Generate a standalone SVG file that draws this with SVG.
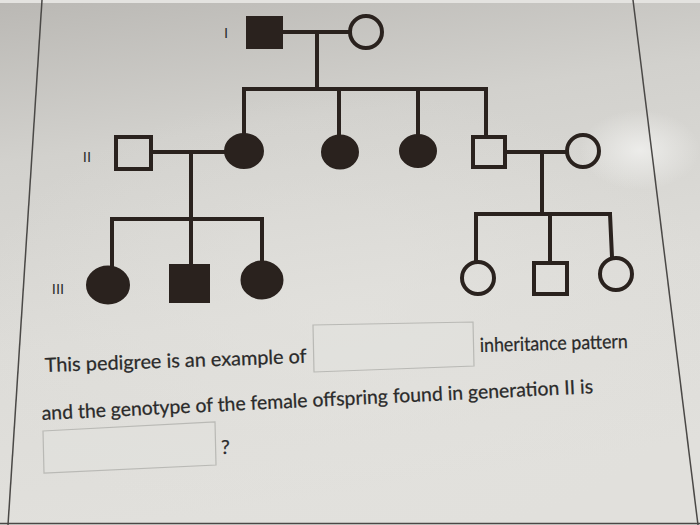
<svg xmlns="http://www.w3.org/2000/svg" width="700" height="525" viewBox="0 0 700 525">
  <defs>
    <linearGradient id="bg" x1="0" y1="0" x2="0.2" y2="1">
      <stop offset="0" stop-color="#bab8b4"/>
      <stop offset="0.3" stop-color="#d2d1cd"/>
      <stop offset="0.65" stop-color="#dddcd8"/>
      <stop offset="1" stop-color="#e1e0dc"/>
    </linearGradient>
    <radialGradient id="soft" cx="0.5" cy="0.5" r="0.5">
      <stop offset="0" stop-color="#e4e3df" stop-opacity="0.6"/>
      <stop offset="1" stop-color="#e4e3df" stop-opacity="0"/>
    </radialGradient>
    <radialGradient id="glare" cx="0.5" cy="0.5" r="0.5">
      <stop offset="0" stop-color="#f2f2f0" stop-opacity="0.8"/>
      <stop offset="1" stop-color="#f2f2f0" stop-opacity="0"/>
    </radialGradient>
    <style>
      .ln { stroke: #2a221e; stroke-width: 4; fill: none; stroke-linecap: square; }
      .filled { fill: #2a221e; stroke: #2a221e; stroke-width: 2; }
      .open { fill: none; stroke: #2a221e; stroke-width: 4; }
      .gen { font-family: "DejaVu Sans", sans-serif; font-size: 14px; fill: #2e2e2e; }
      .txt { font-family: Lato, "Open Sans", sans-serif; font-size: 19.5px; fill: #2a2a2a; stroke: #2a2a2a; stroke-width: 0.25; }
      .box { fill: #e2e2de; fill-opacity: 0.5; stroke: #b9b9b5; stroke-width: 1.2; }
      .edge { stroke: #4a4846; stroke-width: 1.5; fill: none; }
    </style>
  </defs>

  <rect x="0" y="0" width="700" height="525" fill="url(#bg)"/>
  <ellipse cx="350" cy="320" rx="380" ry="230" fill="url(#soft)"/>
  <ellipse cx="640" cy="150" rx="60" ry="40" fill="url(#glare)"/>
  <rect x="0" y="0" width="700" height="3" fill="#e4e3e0"/>

  <!-- page edges -->
  <g id="page-edges">
    <line class="edge" x1="42" y1="0" x2="8" y2="525"/>
    <line class="edge" x1="633" y1="0" x2="698" y2="525"/>
    <line class="edge" x1="0" y1="523.5" x2="700" y2="523.5"/>
  </g>

  <!-- generation labels -->
  <g id="labels">
    <text class="gen" x="226" y="38" text-anchor="middle">I</text>
    <text class="gen" x="87" y="162" text-anchor="middle">II</text>
    <text class="gen" x="58" y="294" text-anchor="middle">III</text>
  </g>

  <!-- connectors -->
  <g id="connectors">
    <line class="ln" x1="283" y1="32" x2="349" y2="32"/>
    <line class="ln" x1="317" y1="32" x2="317" y2="89"/>
    <line class="ln" x1="244" y1="89" x2="486" y2="89"/>
    <line class="ln" x1="244" y1="89" x2="244" y2="134"/>
    <line class="ln" x1="339" y1="89" x2="339" y2="135"/>
    <line class="ln" x1="418" y1="89" x2="418" y2="135"/>
    <line class="ln" x1="486" y1="89" x2="486" y2="136"/>

    <line class="ln" x1="153" y1="152" x2="225" y2="152"/>
    <line class="ln" x1="191" y1="152" x2="191" y2="219"/>
    <line class="ln" x1="112" y1="219" x2="262" y2="219"/>
    <line class="ln" x1="112" y1="219" x2="112" y2="267"/>
    <line class="ln" x1="191" y1="219" x2="191" y2="264"/>
    <line class="ln" x1="262" y1="219" x2="262" y2="262"/>

    <line class="ln" x1="506" y1="152" x2="566" y2="152"/>
    <line class="ln" x1="542" y1="152" x2="542" y2="214"/>
    <line class="ln" x1="476" y1="214" x2="610" y2="214"/>
    <line class="ln" x1="476" y1="214" x2="476" y2="261"/>
    <line class="ln" x1="550" y1="214" x2="550" y2="262"/>
    <line class="ln" x1="610" y1="214" x2="612" y2="257"/>
  </g>

  <!-- Generation I -->
  <g id="I-1"><rect class="filled" x="247" y="17" width="35" height="31"/></g>
  <g id="I-2"><circle class="open" cx="366" cy="32" r="16"/></g>

  <!-- Generation II -->
  <g id="II-1"><rect class="open" x="116" y="137" width="35" height="32"/></g>
  <g id="II-2"><ellipse class="filled" cx="244" cy="151" rx="19" ry="17"/></g>
  <g id="II-3"><ellipse class="filled" cx="340" cy="152" rx="18" ry="16.5"/></g>
  <g id="II-4"><ellipse class="filled" cx="418" cy="151" rx="18" ry="16"/></g>
  <g id="II-5"><rect class="open" x="473" y="137" width="32" height="30"/></g>
  <g id="II-6"><circle class="open" cx="583" cy="151" r="16"/></g>

  <!-- Generation III -->
  <g id="III-1"><ellipse class="filled" cx="108" cy="285" rx="21" ry="18.5"/></g>
  <g id="III-2"><rect class="filled" x="170" y="265" width="39" height="37"/></g>
  <g id="III-3"><ellipse class="filled" cx="262" cy="280" rx="20.5" ry="18.5"/></g>
  <g id="III-4"><circle class="open" cx="478" cy="278" r="16"/></g>
  <g id="III-5"><rect class="open" x="534" y="263" width="33" height="31"/></g>
  <g id="III-6"><circle class="open" cx="616" cy="274" r="16"/></g>

  <!-- question text -->
  <g id="question">
    <text class="txt" x="45" y="372" textLength="262" lengthAdjust="spacingAndGlyphs" transform="rotate(-2 45 372)">This pedigree is an example of</text>
    <path class="box" d="M313,325 L473,322 L474,366 L314,372 Z"/>
    <text class="txt" x="480" y="352" textLength="148" lengthAdjust="spacingAndGlyphs" transform="rotate(-1.6 480 352)">inheritance pattern</text>
    <text class="txt" x="42" y="420" textLength="552" lengthAdjust="spacingAndGlyphs" transform="rotate(-2.8 42 420)">and the genotype of the female offspring found in generation II is</text>
    <path class="box" d="M43,431 L215,422 L216,465 L44,473 Z"/>
    <text class="txt" x="221" y="454">?</text>
  </g>
</svg>
